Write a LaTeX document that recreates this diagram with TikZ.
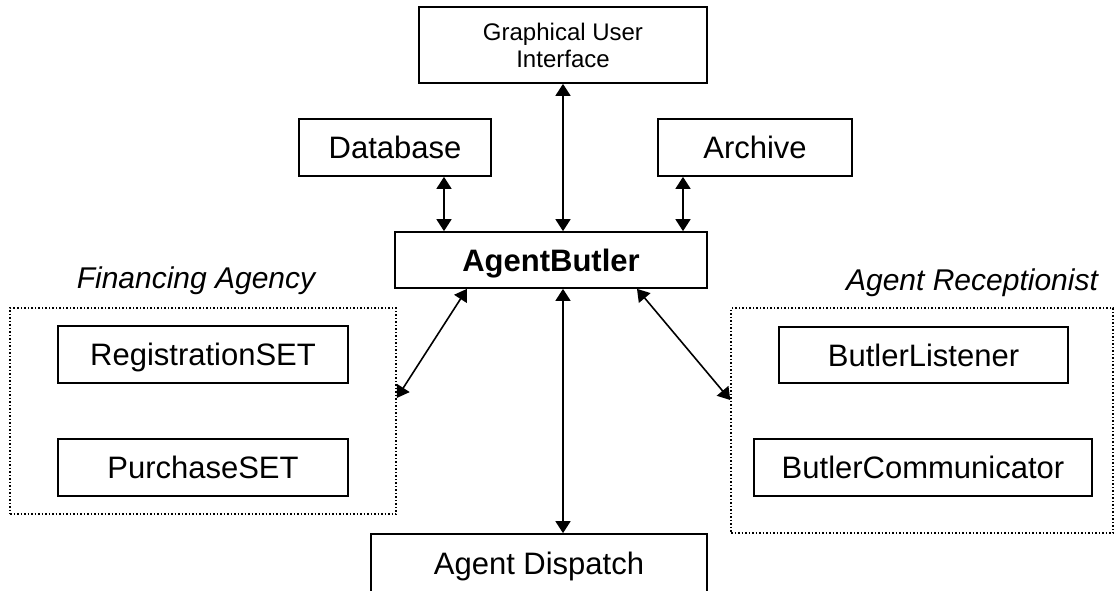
\documentclass[tikz,border=0pt]{standalone}
\usepackage{fontspec}
\setmainfont{Liberation Sans}
\usetikzlibrary{arrows.meta}
\tikzset{
  box/.style={draw=black, line width=1.7pt, fill=white, inner sep=0pt,
    font=\fontsize{31}{36}\selectfont, text height=22pt, text depth=0pt},
  group/.style={draw=black, line width=1.5pt, dotted, inner sep=0pt},
  biarrow/.style={line width=1.6pt, {Triangle[length=12pt,width=15pt]}-{Triangle[length=12pt,width=15pt]}},
  lbl/.style={font=\fontsize{30}{34}\selectfont\itshape, anchor=base, inner sep=0pt}
}
\begin{document}
\begin{tikzpicture}[x=1pt,y=-1pt]
\clip (0,0) rectangle (1115,590);
\fill[white] (0,0) rectangle (1115,590);
% groups
\node[group, minimum width=386pt, minimum height=206pt] (fin) at (203,411) {};
\node[group, minimum width=382pt, minimum height=225pt] (rec) at (922,420.5) {};
\node[lbl] (finlbl) at (196,288) {Financing Agency};
\node[lbl] (reclbl) at (972,290) {Agent Receptionist};
% boxes
\node[draw=black, line width=1.7pt, inner sep=0pt, align=center,
      font=\fontsize{24}{27}\selectfont, minimum width=288pt, minimum height=76pt] (gui) at (563,45) {Graphical User\\Interface};
\node[box, minimum width=192pt, minimum height=57pt] (db) at (395,147.5) {Database};
\node[box, minimum width=194pt, minimum height=57pt] (arch) at (755,147.5) {Archive};
\node[box, minimum width=312pt, minimum height=56pt, font=\fontsize{31}{36}\selectfont\bfseries] (butler) at (551,260) {AgentButler};
\node[box, minimum width=290pt, minimum height=57pt] (reg) at (203,354.5) {RegistrationSET};
\node[box, minimum width=290pt, minimum height=57pt] (pur) at (203,467.5) {PurchaseSET};
\node[box, minimum width=289pt, minimum height=56pt] (bl) at (923.5,355) {ButlerListener};
\node[box, minimum width=338pt, minimum height=57pt] (bc) at (923,467.5) {ButlerCommunicator};
\node[box, minimum width=336pt, minimum height=70pt, text depth=12pt] (disp) at (539,569) {Agent Dispatch};
% connectors
\draw[biarrow] (gui.south) -- (gui.south |- butler.north);
\draw[biarrow] ([xshift=49pt]db.south) -- ([xshift=49pt]db.south |- butler.north);
\draw[biarrow] ([xshift=-72pt]arch.south) -- ([xshift=-72pt]arch.south |- butler.north);
\draw[biarrow] ([xshift=-84pt]butler.south) -- ([yshift=13pt]fin.east);
\draw[biarrow] ([xshift=86pt]butler.south) -- ([yshift=20.5pt]rec.west);
\draw[biarrow] ([xshift=12pt]butler.south) -- ([xshift=12pt]butler.south |- disp.north);
\end{tikzpicture}
\end{document}
